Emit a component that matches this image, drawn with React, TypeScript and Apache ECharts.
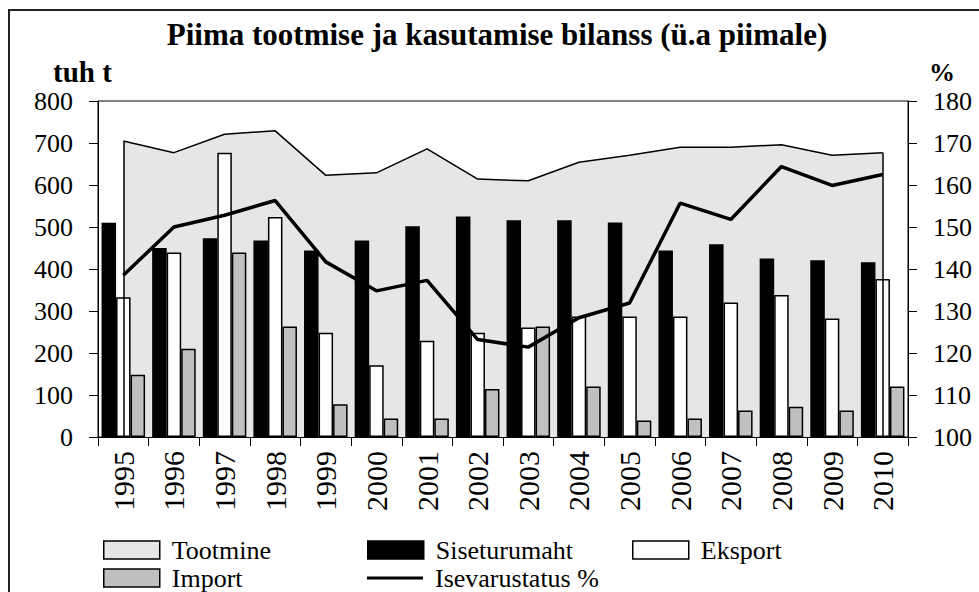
import React, { useEffect, useRef } from "react";
import * as echarts from "echarts";

const categories = ["1995","1996","1997","1998","1999","2000","2001","2002","2003","2004","2005","2006","2007","2008","2009","2010"];
const tootmine = [705,677,721,729,623,629,686,614,610,654,671,690,690,696,671,677];
const siseturumaht = [510,450,473,468,444,468,502,525,516,516,511,444,459,425,421,416];
const eksport = [333,439,677,524,248,171,229,248,261,287,287,287,320,338,282,376];
const importData = [148,210,439,263,78,44,44,114,263,120,39,44,63,72,63,120];
const isevarustatus = [138.5,150,152.8,156.3,141.7,134.8,137.3,123.2,121.4,128.4,131.9,155.7,151.8,164.4,159.9,162.5];

const titleText = "Piima tootmise ja kasutamise bilanss (ü.a piimale)";
const leftUnit = "tuh t";
const rightUnit = "%";

const FONT = "Liberation Serif, Times New Roman, serif";
const AREA = "#e6e6e6";

export default function App() {
  const ref = useRef<HTMLDivElement>(null);
  useEffect(() => {
    if (!ref.current) return;
    const chart = echarts.init(ref.current, null, { renderer: "svg" });
    const legendText = { fontFamily: FONT, fontSize: 26, color: "#000", lineHeight: 18, padding: [0, 0, 0, 7] };
    const mkLegend = (name: string, left: number, top: number, itemStyle: any, extra: any = {}) => ({
      left, top, padding: 0, itemWidth: 56, itemHeight: 18, selectedMode: false,
      textStyle: legendText,
      data: [{ name, icon: "rect", itemStyle }],
      ...extra,
    });
    const first = categories[0];
    const last = categories[categories.length - 1];
    chart.setOption({
      animation: false,
      backgroundColor: "#fff",
      textStyle: { fontFamily: FONT },
      graphic: [
        { type: "rect", shape: { x: 9, y: 10, width: 1000, height: 620 }, style: { fill: "none", stroke: "#222", lineWidth: 2 } },
        { type: "text", x: 497, y: 34, style: { text: titleText, fontFamily: FONT, fontSize: 31, fontWeight: "bold", fill: "#000", align: "center", verticalAlign: "middle" } },
        { type: "text", x: 53, y: 72, style: { text: leftUnit, fontFamily: FONT, fontSize: 29, fontWeight: "bold", fill: "#000", align: "left", verticalAlign: "middle" } },
        { type: "text", x: 929, y: 72, style: { text: rightUnit, fontFamily: FONT, fontSize: 26, fontWeight: "bold", fill: "#000", align: "left", verticalAlign: "middle" } },
      ],
      legend: [
        mkLegend("Tootmine", 103, 537, { color: AREA, borderColor: "#000", borderWidth: 1.5 }),
        mkLegend("Siseturumaht", 367, 537, { color: "#000", borderColor: "#000", borderWidth: 1.5 }),
        mkLegend("Eksport", 632, 537, { color: "#fff", borderColor: "#000", borderWidth: 1.5 }),
        mkLegend("Import", 103, 565, { color: "#c0c0c0", borderColor: "#000", borderWidth: 1.5 }),
        mkLegend("Isevarustatus %", 367, 565, { color: "#000", borderWidth: 0 }, { itemHeight: 3 }),
      ],
      grid: { left: 98, right: 71, top: 101, bottom: 155, show: true, borderColor: "#000", borderWidth: 1, backgroundColor: "transparent" },
      xAxis: {
        type: "category",
        data: categories,
        boundaryGap: true,
        axisLine: { lineStyle: { color: "#000", width: 1 } },
        axisTick: { show: true, length: 9, lineStyle: { color: "#000" } },
        axisLabel: { rotate: 90, margin: 14, fontFamily: FONT, fontSize: 30, color: "#000" },
        splitLine: { show: false },
      },
      yAxis: [
        {
          type: "value", min: 0, max: 800, interval: 100, position: "left",
          axisLine: { show: true, lineStyle: { color: "#000", width: 1 } },
          axisTick: { show: true, length: 9, lineStyle: { color: "#000" } },
          axisLabel: { margin: 25, fontFamily: FONT, fontSize: 26, color: "#000" },
          splitLine: { show: false },
        },
        {
          type: "value", min: 100, max: 180, interval: 10, position: "right",
          axisLine: { show: true, lineStyle: { color: "#000", width: 1 } },
          axisTick: { show: true, length: 9, lineStyle: { color: "#000" } },
          axisLabel: { margin: 25, fontFamily: FONT, fontSize: 26, color: "#000" },
          splitLine: { show: false },
        },
      ],
      series: [
        {
          name: "Tootmine", type: "line", data: tootmine, symbol: "none", z: 1,
          lineStyle: { color: "#000", width: 1.5 },
          itemStyle: { color: AREA },
          areaStyle: { color: AREA, opacity: 1 },
          markLine: {
            silent: true, symbol: "none", label: { show: false },
            lineStyle: { color: "#000", width: 1.5, type: "solid" },
            data: [
              [{ coord: [first, 0] }, { coord: [first, tootmine[0]] }],
              [{ coord: [last, 0] }, { coord: [last, tootmine[tootmine.length - 1]] }],
            ],
          },
        },
        {
          name: "Siseturumaht", type: "bar", data: siseturumaht, z: 2, barGap: "0%", barCategoryGap: "14%",
          itemStyle: { color: "#000", borderColor: "#000", borderWidth: 1.5 },
        },
        {
          name: "Eksport", type: "bar", data: eksport, z: 2,
          itemStyle: { color: "#fff", borderColor: "#000", borderWidth: 1.5 },
        },
        {
          name: "Import", type: "bar", data: importData, z: 2,
          itemStyle: { color: "#c0c0c0", borderColor: "#000", borderWidth: 1.5 },
        },
        {
          name: "Isevarustatus %", type: "line", yAxisIndex: 1, data: isevarustatus, symbol: "none", z: 5,
          lineStyle: { color: "#000", width: 3.5 },
          itemStyle: { color: "#000" },
        },
      ],
    });
    return () => chart.dispose();
  }, []);
  return <div ref={ref} style={{ position: "fixed", left: 0, top: 0, width: 979, height: 592, background: "#fff" }} />;
}
